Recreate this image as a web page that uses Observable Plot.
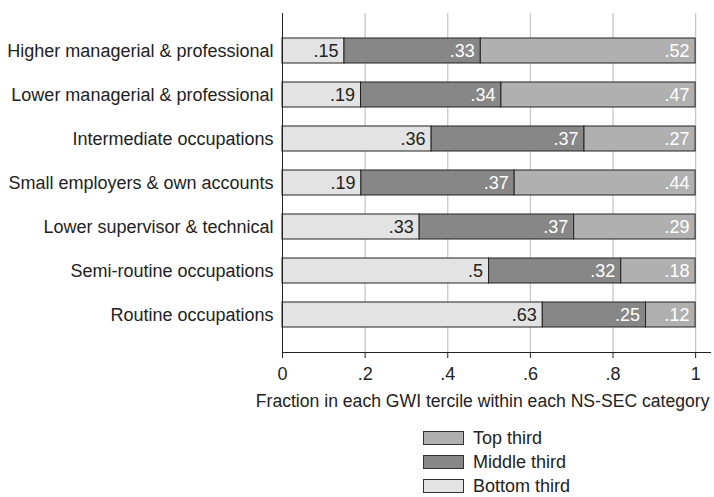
<!DOCTYPE html>
<html>
<head>
<meta charset="utf-8">
<script src="https://cdn.jsdelivr.net/npm/d3@7"></script>
<script src="https://cdn.jsdelivr.net/npm/@observablehq/plot@0.6"></script>
<style>
  html, body { margin: 0; padding: 0; background: #fff; }
  body { width: 714px; height: 497px; overflow: hidden; font-family: "Liberation Sans", Arial, sans-serif; color: #222; }
  #legend { position: absolute; left: 423px; top: 426px; }
  .row { display: flex; align-items: center; height: 24px; font-size: 18px; }
  .sw { width: 39px; height: 12px; border: 1px solid #333; margin-right: 9px; box-sizing: content-box; }
</style>
</head>
<body>
<div id="chart"></div>
<div id="legend"></div>
<script>
const categories = [
  "Higher managerial & professional",
  "Lower managerial & professional",
  "Intermediate occupations",
  "Small employers & own accounts",
  "Lower supervisor & technical",
  "Semi-routine occupations",
  "Routine occupations"
];
const bottomThird = [0.15, 0.19, 0.361, 0.191, 0.332, 0.5, 0.63];
const middleThird = [0.33, 0.34, 0.37, 0.371, 0.374, 0.32, 0.25];
const topThird    = [0.52, 0.47, 0.269, 0.438, 0.294, 0.18, 0.12];
const terciles = ["Bottom third", "Middle third", "Top third"];
const colors = ["#e3e3e3", "#878787", "#b0b0b0"];
const textColors = ["#222", "#fff", "#fff"];
const xTicks = [0, 0.2, 0.4, 0.6, 0.8, 1];
const xTickLabels = ["0", ".2", ".4", ".6", ".8", "1"];
const xTitle = "Fraction in each GWI tercile within each NS-SEC category";

const fmt = d3.format(".2~f");
const series = [bottomThird, middleThird, topThird];
const data = [];
categories.forEach((c, i) => {
  terciles.forEach((t, j) => {
    const v = series[j][i];
    data.push({cat: c, tercile: t, value: v, label: fmt(v).replace(/^0\./, "."), tc: textColors[j]});
  });
});

const chart = Plot.plot({
  width: 714,
  height: 420,
  marginLeft: 282,
  marginRight: 4,
  marginTop: 13,
  marginBottom: 68,
  style: {fontFamily: "Liberation Sans, Arial, sans-serif", color: "#222", background: "#fff"},
  x: {domain: [0, 1.036], ticks: xTicks, tickFormat: (d) => xTickLabels[xTicks.indexOf(d)], label: null},
  y: {domain: categories, label: null, padding: 0.434, paddingOuter: 0.55},
  color: {domain: terciles, range: colors},
  marks: [
    Plot.gridX(xTicks.slice(1), {stroke: "#c8c8c8", strokeOpacity: 1, strokeWidth: 1.3}),
    Plot.barX(data, Plot.stackX({x: "value", y: "cat", fill: "tercile", stroke: "#222", strokeWidth: 1, inset: 0})),
    Plot.text(data, Plot.stackX2({x: "value", y: "cat", text: "label", fill: "tc", textAnchor: "end", dx: -6, fontSize: 18})),
    Plot.frame({anchor: "left", stroke: "#222"}),
    Plot.frame({anchor: "bottom", stroke: "#222"}),
    Plot.axisX({ticks: xTicks, tickFormat: (d) => xTickLabels[xTicks.indexOf(d)], tickSize: 6, tickPadding: 9, fontSize: 18, stroke: "#222", label: null}),
    Plot.axisY({tickSize: 0, tickPadding: 9, fontSize: 18, label: null}),
    Plot.text([xTitle], {frameAnchor: "bottom-right", textAnchor: "end", dx: -1, dy: 54, fontSize: 17.6, fill: "#222", x: null})
  ]
});
document.getElementById("chart").appendChild(chart);

const legend = document.getElementById("legend");
[2, 1, 0].forEach(j => {
  const row = document.createElement("div");
  row.className = "row";
  const sw = document.createElement("div");
  sw.className = "sw";
  sw.style.background = colors[j];
  const lab = document.createElement("span");
  lab.textContent = terciles[j];
  row.appendChild(sw);
  row.appendChild(lab);
  legend.appendChild(row);
});
</script>
</body>
</html>
